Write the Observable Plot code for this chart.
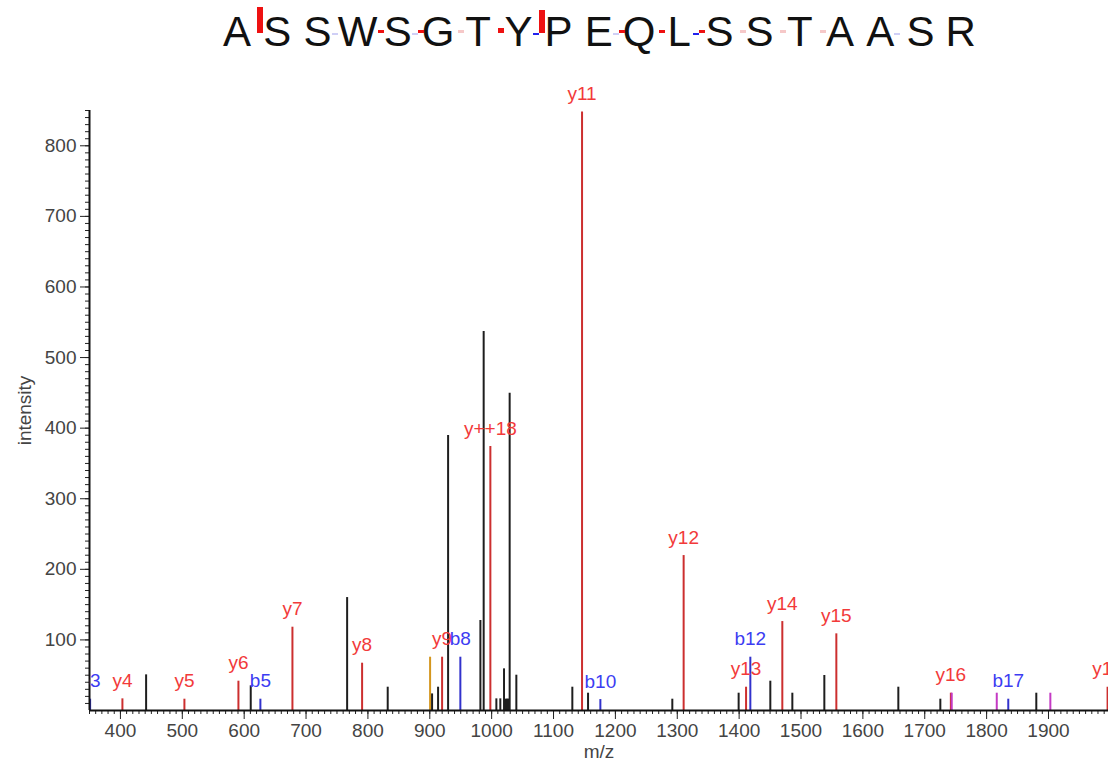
<!DOCTYPE html>
<html>
<head>
<meta charset="utf-8">
<script src="https://cdn.jsdelivr.net/npm/d3@7"></script>
<script src="https://cdn.jsdelivr.net/npm/@observablehq/plot@0.6"></script>
<style>
  html, body { margin: 0; padding: 0; background: #fff; overflow: hidden; }
  #header { position: relative; width: 1108px; height: 65px; font-family: "Liberation Sans", Arial, sans-serif; }
  .aa { position: absolute; top: 8px; font-size: 42px; line-height: 48px; color: #111; transform: translateX(-50%); }
  .frag { position: absolute; }
</style>
</head>
<body>
<div id="header"></div>
<div id="chart"></div>
<script>
// ---- peptide sequence & fragment coverage marks ----
const letters = ["A","S","S","W","S","G","T","Y","P","E","Q","L","S","S","T","A","A","S","R"];
const fragGap   = [0, 2, 3, 4, 4, 5, 6, 7, 7, 9, 9, 10, 11, 11, 12, 13, 14, 16];
const fragIon   = ["y","b","y","b","y","y","y","b","y","b","y","y","b","y","y","y","y","b"];
const fragLevel = [10, 1, 1, 1, 1.2, 1, 2, 1, 9, 1, 1, 1, 1, 1.2, 1, 1, 1, 1];
const fragFaint = [false,true,false,true,false,true,false,false,false,true,false,false,false,false,true,true,true,true];

// ---- spectrum peaks ----
const peakMz = [351, 403.2, 441.5, 503.4, 590.7, 610.6, 626.2, 678, 766.4, 790.6, 832, 900.5, 903.7, 913.4, 919.9, 929.6, 949.4,
  981.8, 987.1, 997.9, 1007.6, 1014, 1020, 1022.6, 1024.3, 1026, 1027.4, 1029.1, 1039.9, 1130.4, 1146.1, 1155.8, 1175.7,
  1292, 1310.3, 1399.2, 1411.2, 1418.1, 1450.4, 1469.8, 1486, 1537.7, 1557.1, 1657.3, 1725.2, 1742.2, 1743.6, 1816.4,
  1835, 1880.3, 1903, 1995.5];
const peakInt = [16, 16.5, 50.5, 16, 41.5, 35, 16, 118, 160, 67, 33, 75.5, 23.5, 33, 75.5, 389.5, 75.5,
  127.5, 537, 374, 16.5, 16.5, 59, 16, 16, 16, 16, 449.5, 50, 33, 848, 24.5, 15.5,
  16, 219.5, 24.5, 33, 75.5, 41.5, 126, 24.5, 49.6, 108.6, 33, 16, 24.5, 24.5, 24.5,
  16, 24.5, 24.5, 33];
const peakIon = ["b","y","o","y","y","o","b","y","o","y","o","n","o","o","y","o","b",
  "o","o","y","o","o","o","o","o","o","o","o","o","o","y","o","b",
  "o","y","o","y","b","o","y","o","o","y","o","o","y","m","m",
  "b","o","m","y"];

// ---- ion annotations ----
const labelText = ["b3","y4","y5","y6","b5","y7","y8","y9","b8","y++18","y11","b10","y12","y13","b12","y14","y15","y16","b17","y17"];
const labelMz   = [351, 403.2, 503.4, 590.7, 626.2, 678, 790.6, 919.9, 949.4, 997.9, 1146.1, 1175.7, 1310.3, 1411.2, 1418.1, 1469.8, 1557.1, 1742.2, 1835, 1995.5];
const labelInt  = [16, 16.5, 16, 41.5, 16, 118, 67, 75.5, 75.5, 374, 848, 15.5, 219.5, 33, 75.5, 126, 108.6, 24.5, 16, 33];
const labelIon  = ["b","y","y","y","b","y","y","y","b","y","y","b","y","y","b","y","y","y","b","y"];

const yTicks = [100, 200, 300, 400, 500, 600, 700, 800];
const xTicks = [400, 500, 600, 700, 800, 900, 1000, 1100, 1200, 1300, 1400, 1500, 1600, 1700, 1800, 1900];

// ---- header ----
const header = document.getElementById("header");
const x0 = 237, step = 40.2, mid = 33;
letters.forEach((l, i) => {
  const s = document.createElement("span");
  s.className = "aa"; s.textContent = l; s.style.left = (x0 + i * step) + "px";
  header.appendChild(s);
});
fragGap.forEach((g, i) => {
  const d = document.createElement("div");
  d.className = "frag";
  const cx = x0 + (g + 0.5) * step + (fragIon[i] === "y" ? 3 : -3);
  const h = fragIon[i] === "y" ? 2.6 * fragLevel[i] : 2.2 * fragLevel[i];
  d.style.left = (cx - 3) + "px";
  d.style.width = "6px";
  d.style.height = h + "px";
  d.style.top = (fragIon[i] === "y" ? mid - h : mid) + "px";
  const base = fragIon[i] === "y" ? "#ee1111" : "#2222ee";
  d.style.background = fragFaint[i] ? (fragIon[i] === "y" ? "#f6c8c8" : "#cfcff6") : base;
  header.appendChild(d);
});

// ---- chart ----
const ionColor = {y: "#cc2f2f", b: "#3232cc", o: "#1e1e1e", n: "#d4961e", m: "#c43ac4"};
const labColor = {y: "#f23a3a", b: "#3c3cf2"};
const peaks = peakMz.map((m, i) => ({mz: m, int: peakInt[i], color: ionColor[peakIon[i]]}));
const labels = labelText.map((t, i) => ({text: t, mz: labelMz[i], int: labelInt[i], color: labColor[labelIon[i]]}));

const font = "'Liberation Sans', Arial, sans-serif";
const chart = Plot.plot({
  width: 1108,
  height: 700,
  marginLeft: 89,
  marginRight: 0,
  marginTop: 45,
  marginBottom: 55,
  style: {fontFamily: font, fontSize: "17px", background: "#fff", overflow: "visible"},
  x: {domain: [350, 1997]},
  y: {domain: [0, 850]},
  color: {type: "identity"},
  marks: [
    Plot.axisY({ticks: d3.range(10, 851, 10), tickSize: 4, text: null, label: null, stroke: "#222"}),
    Plot.axisY({ticks: yTicks, tickSize: 9, tickPadding: 4, fontSize: 19, fill: "#444", stroke: "#222", tickFormat: d3.format("d"),
      label: "intensity", labelAnchor: "center", labelOffset: 72, labelArrow: false}),
    Plot.axisX({ticks: d3.range(350, 1997, 10), tickSize: 4, text: null, label: null, stroke: "#222"}),
    Plot.axisX({ticks: xTicks, tickSize: 9, tickPadding: 4, fontSize: 19, fill: "#444", stroke: "#222", tickFormat: d3.format("d"),
      label: "m/z", labelAnchor: "center", labelOffset: 47, labelArrow: false}),
    Plot.ruleX(peaks, {x: "mz", y1: 0, y2: "int", stroke: "color", strokeWidth: 2}),
    Plot.ruleY([0], {stroke: "#111", strokeWidth: 2}),
    Plot.ruleX([350], {stroke: "#111", strokeWidth: 2}),
    Plot.text(labels.filter(d => d.mz > 360), {x: "mz", y: "int", text: "text", fill: "color", fontSize: 19, dy: -12, lineAnchor: "bottom"}),
    Plot.text(labels.filter(d => d.mz <= 360), {x: "mz", y: "int", text: "text", fill: "color", fontSize: 19, dy: -12, lineAnchor: "bottom", clip: true})
  ]
});
document.getElementById("chart").appendChild(chart);
</script>
</body>
</html>
